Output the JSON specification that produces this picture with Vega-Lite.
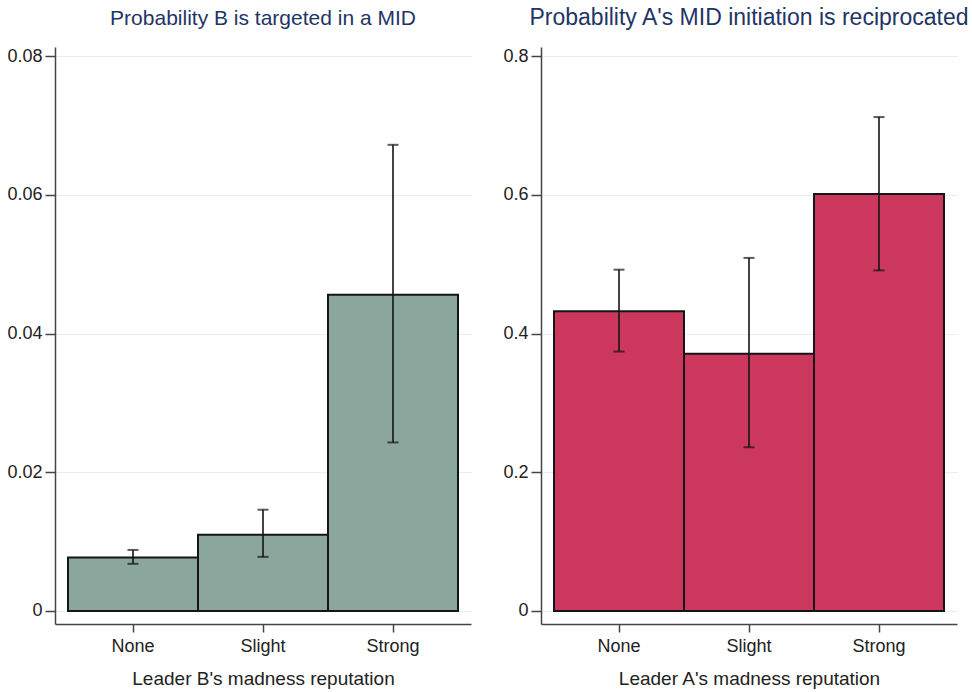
{
  "$schema": "https://vega.github.io/schema/vega-lite/v6.json",
  "background": "white",
  "padding": {"left": 6, "top": 7, "right": 4, "bottom": 4},
  "spacing": 31,
  "config": {
    "view": {"stroke": null},
    "font": "Liberation Sans",
    "title": {"fontSize": 21, "fontWeight": "normal", "color": "#1f3566", "offset": 18, "anchor": "middle"},
    "axis": {
      "labelFontSize": 18, "titleFontSize": 19, "titleFontWeight": "normal",
      "labelColor": "#222", "titleColor": "#222",
      "domainColor": "#444", "domainWidth": 1.5,
      "tickColor": "#444", "tickWidth": 1.5
    }
  },
  "datasets": {
    "left": [
      {"rep": "None", "p": 0.0077, "lo": 0.0068, "hi": 0.0088},
      {"rep": "Slight", "p": 0.0110, "lo": 0.0078, "hi": 0.0146},
      {"rep": "Strong", "p": 0.0456, "lo": 0.0243, "hi": 0.0672}
    ],
    "right": [
      {"rep": "None", "p": 0.432, "lo": 0.374, "hi": 0.492},
      {"rep": "Slight", "p": 0.371, "lo": 0.236, "hi": 0.509},
      {"rep": "Strong", "p": 0.601, "lo": 0.491, "hi": 0.712}
    ]
  },
  "hconcat": [
    {
      "width": 416, "height": 577,
      "title": {"text": "Probability B is targeted in a MID"},
      "data": {"name": "left"},
      "encoding": {
        "x": {"field": "rep", "type": "nominal", "sort": ["None", "Slight", "Strong"],
              "scale": {"paddingInner": 0, "paddingOuter": 0.1},
              "axis": {"title": "Leader B's madness reputation", "labelAngle": 0, "tickSize": 8, "labelPadding": 5, "titlePadding": 14}}
      },
      "layer": [
        {
          "mark": {"type": "bar", "fill": "#8ba69c", "stroke": "#151515", "strokeWidth": 2},
          "encoding": {
            "y": {"field": "p", "type": "quantitative",
                  "scale": {"domain": [-0.001874, 0.0813], "nice": false, "zero": false},
                  "axis": {"title": null, "values": [0, 0.02, 0.04, 0.06, 0.08], "format": ".2~f", "grid": true, "gridColor": "#e6eeee", "tickSize": 10, "labelPadding": 3}},
            "y2": {"datum": 0}
          }
        },
        {
          "mark": {"type": "rule", "color": "#151515", "strokeWidth": 1.6},
          "encoding": {"y": {"field": "lo", "type": "quantitative"}, "y2": {"field": "hi"}}
        },
        {
          "mark": {"type": "tick", "color": "#151515", "size": 11, "thickness": 2},
          "encoding": {"y": {"field": "lo", "type": "quantitative"}}
        },
        {
          "mark": {"type": "tick", "color": "#151515", "size": 11, "thickness": 2},
          "encoding": {"y": {"field": "hi", "type": "quantitative"}}
        }
      ]
    },
    {
      "width": 416, "height": 577,
      "title": {"text": "Probability A's MID initiation is reciprocated", "fontSize": 23, "offset": 17},
      "data": {"name": "right"},
      "encoding": {
        "x": {"field": "rep", "type": "nominal", "sort": ["None", "Slight", "Strong"],
              "scale": {"paddingInner": 0, "paddingOuter": 0.1},
              "axis": {"title": "Leader A's madness reputation", "labelAngle": 0, "tickSize": 8, "labelPadding": 5, "titlePadding": 14}}
      },
      "layer": [
        {
          "mark": {"type": "bar", "fill": "#cc385d", "stroke": "#151515", "strokeWidth": 2},
          "encoding": {
            "y": {"field": "p", "type": "quantitative",
                  "scale": {"domain": [-0.01874, 0.813], "nice": false, "zero": false},
                  "axis": {"title": null, "values": [0, 0.2, 0.4, 0.6, 0.8], "format": ".1~f", "grid": true, "gridColor": "#e6eeee", "tickSize": 10, "labelPadding": 3}},
            "y2": {"datum": 0}
          }
        },
        {
          "mark": {"type": "rule", "color": "#151515", "strokeWidth": 1.6},
          "encoding": {"y": {"field": "lo", "type": "quantitative"}, "y2": {"field": "hi"}}
        },
        {
          "mark": {"type": "tick", "color": "#151515", "size": 11, "thickness": 2},
          "encoding": {"y": {"field": "lo", "type": "quantitative"}}
        },
        {
          "mark": {"type": "tick", "color": "#151515", "size": 11, "thickness": 2},
          "encoding": {"y": {"field": "hi", "type": "quantitative"}}
        }
      ]
    }
  ]
}
